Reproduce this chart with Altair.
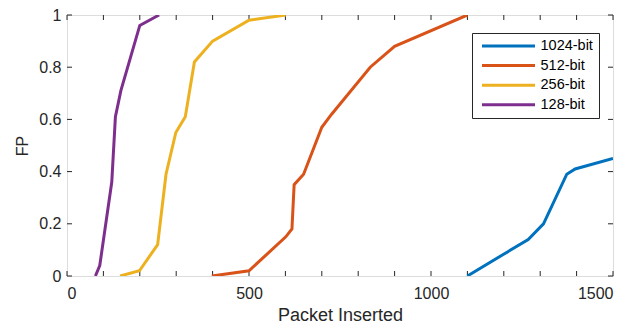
import altair as alt
import pandas as pd

# ---- data ----
series_names = ["1024-bit", "512-bit", "256-bit", "128-bit"]
series_colors = ["#0072BD", "#D95319", "#EDB120", "#7E2F8E"]

x_1024 = [1100, 1267, 1309, 1373, 1396, 1500]
y_1024 = [0.0, 0.14, 0.20, 0.39, 0.41, 0.45]

x_512 = [398, 500, 601, 618, 624, 650, 700, 727, 833, 900, 1100]
y_512 = [0.0, 0.02, 0.15, 0.18, 0.35, 0.39, 0.57, 0.62, 0.80, 0.88, 1.0]

x_256 = [146, 199, 249, 272, 299, 325, 350, 400, 500, 601]
y_256 = [0.0, 0.02, 0.12, 0.39, 0.55, 0.61, 0.82, 0.90, 0.98, 1.0]

x_128 = [78, 90, 123, 133, 148, 200, 253]
y_128 = [0.0, 0.04, 0.36, 0.61, 0.71, 0.96, 1.0]

x_ticks = [0, 100, 200, 300, 400, 500, 600, 700, 800, 900, 1000, 1100, 1200, 1300, 1400, 1500]
x_labels = [0, 500, 1000, 1500]
y_ticks = [0, 0.2, 0.4, 0.6, 0.8, 1.0]

rows = []
for name, xs, ys in [("1024-bit", x_1024, y_1024), ("512-bit", x_512, y_512),
                     ("256-bit", x_256, y_256), ("128-bit", x_128, y_128)]:
    for i, (a, b) in enumerate(zip(xs, ys)):
        rows.append({"series": name, "x": a, "y": b, "i": i})
df = pd.DataFrame(rows)

W, H = 546, 261
FONT = "Liberation Sans"
INK = "#262626"

xscale = alt.Scale(domain=[0, 1500], nice=False)
yscale = alt.Scale(domain=[0, 1], nice=False)

lines = alt.Chart(df).mark_line(strokeWidth=3, clip=True).encode(
    x=alt.X("x:Q", scale=xscale,
            axis=alt.Axis(title="Packet Inserted", values=x_labels, format="d", ticks=False,
                          grid=False, domain=False, labelFontSize=16, titleFontSize=18,
                          labelPadding=9, titlePadding=5, labelColor=INK, titleColor=INK,
                          labelFont=FONT, titleFont=FONT, titleFontWeight="normal")),
    y=alt.Y("y:Q", scale=yscale,
            axis=alt.Axis(title="FP", values=y_ticks, format="~g", ticks=False,
                          grid=False, domain=False, labelFontSize=16, titleFontSize=16,
                          labelPadding=6, titlePadding=8, labelColor=INK, titleColor=INK,
                          labelFont=FONT, titleFont=FONT, titleFontWeight="normal")),
    color=alt.Color("series:N",
                    scale=alt.Scale(domain=series_names, range=series_colors),
                    legend=alt.Legend(title=None, orient="none", legendX=405, legendY=18,
                                      symbolType="stroke", symbolSize=2809,
                                      symbolStrokeWidth=3, clipHeight=15, rowPadding=3.6,
                                      padding=5.5, symbolOffset=3, labelOffset=4,
                                      labelFontSize=14.5, labelFont=FONT, labelColor="#000000",
                                      strokeColor=INK, fillColor="#ffffff",
                                      cornerRadius=0)),
    order="i:Q",
)

xt = pd.DataFrame({"v": x_ticks})
yt = pd.DataFrame({"v": y_ticks})

tick_bottom = alt.Chart(xt).mark_rule(color=INK, strokeWidth=1).encode(
    x=alt.X("v:Q", scale=xscale), y=alt.value(H), y2=alt.value(H - 5))
tick_top = alt.Chart(xt).mark_rule(color=INK, strokeWidth=1).encode(
    x=alt.X("v:Q", scale=xscale), y=alt.value(0), y2=alt.value(5))
tick_left = alt.Chart(yt).mark_rule(color=INK, strokeWidth=1).encode(
    y=alt.Y("v:Q", scale=yscale), x=alt.value(0), x2=alt.value(5))
tick_right = alt.Chart(yt).mark_rule(color=INK, strokeWidth=1).encode(
    y=alt.Y("v:Q", scale=yscale), x=alt.value(W), x2=alt.value(W - 5))

chart = alt.layer(tick_bottom, tick_top, tick_left, tick_right, lines).properties(
    width=W, height=H,
    autosize=alt.AutoSizeParams(type="none"),
    padding={"left": 59, "top": 7, "right": 20, "bottom": 48},
).configure_view(stroke=INK, strokeWidth=1).configure(background="#ffffff")

chart.save("out.html", embed_options={"renderer": "svg", "actions": False})
